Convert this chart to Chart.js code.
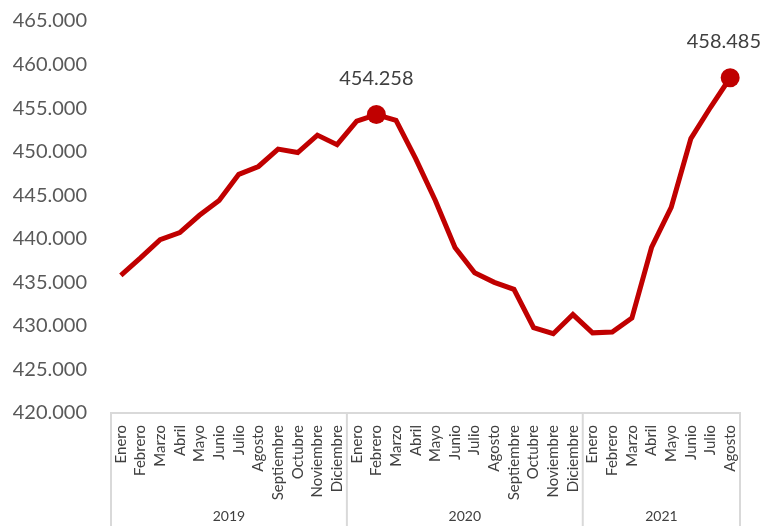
<!DOCTYPE html>
<html>
<head>
<meta charset="utf-8">
<script src="https://cdn.jsdelivr.net/npm/chart.js@4/dist/chart.umd.min.js"></script>
<style>
  html, body { margin: 0; padding: 0; background: #fff; }
  #wrap { width: 765px; height: 526px; }
</style>
</head>
<body>
<div id="wrap"><canvas id="chart" width="765" height="526"></canvas></div>
<script>
// Chart data
const years = ["2019", "2020", "2021"];
const monthsPerYear = [12, 12, 8];
const monthNames = ["Enero", "Febrero", "Marzo", "Abril", "Mayo", "Junio", "Julio",
  "Agosto", "Septiembre", "Octubre", "Noviembre", "Diciembre"];
const values = [
  435800, 437800, 439900, 440700, 442700, 444400, 447400, 448300, 450300, 449900, 451900, 450800,
  453500, 454258, 453600, 449200, 444400, 439000, 436100, 435000, 434200, 429800, 429100, 431300,
  429200, 429300, 430900, 439000, 443600, 451500, 455100, 458485
];
const highlighted = [13, 31];
const yTicks = { min: 420000, max: 465000, step: 5000 };

const labels = [];
monthsPerYear.forEach((n) => {
  for (let i = 0; i < n; i++) labels.push(monthNames[i]);
});

function fmt(v) {
  return Math.round(v).toString().replace(/\B(?=(\d{3})+(?!\d))/g, ".");
}

const FONT = "Lato, 'Open Sans', sans-serif";

// Draws the data labels, the grouped axis lines and the year labels
const extras = {
  id: "extras",
  afterDatasetsDraw(chart) {
    const ctx = chart.ctx;
    const meta = chart.getDatasetMeta(0);
    const x = chart.scales.x;
    const area = chart.chartArea;

    ctx.save();
    ctx.fillStyle = "#404040";
    ctx.font = "20px " + FONT;
    ctx.textAlign = "center";
    ctx.textBaseline = "middle";
    highlighted.forEach((i) => {
      const p = meta.data[i];
      const txt = fmt(values[i]);
      const w = ctx.measureText(txt).width;
      let cx = p.x;
      if (cx + w / 2 > chart.width - 4) cx = chart.width - 4 - w / 2;
      ctx.fillText(txt, cx, p.y - 36);
    });

    // group separators
    const half = (x.getPixelForValue(1) - x.getPixelForValue(0)) / 2;
    ctx.strokeStyle = "#d9d9d9";
    ctx.lineWidth = 2;
    let start = 0;
    const bounds = [x.getPixelForValue(0) - half];
    monthsPerYear.forEach((n) => {
      start += n;
      bounds.push(x.getPixelForValue(start - 1) + half);
    });
    bounds.forEach((bx) => {
      ctx.beginPath();
      ctx.moveTo(bx, area.bottom);
      ctx.lineTo(bx, chart.height);
      ctx.stroke();
    });

    ctx.font = "14px " + FONT;
    ctx.fillStyle = "#404040";
    years.forEach((yr, k) => {
      ctx.fillText(yr, (bounds[k] + bounds[k + 1]) / 2, 516);
    });
    ctx.restore();
  },
};

new Chart(document.getElementById("chart"), {
  type: "line",
  data: {
    labels: labels,
    datasets: [
      {
        data: values,
        borderColor: "#C00000",
        backgroundColor: "#C00000",
        borderWidth: 5,
        tension: 0,
        pointRadius: (c) => (highlighted.includes(c.dataIndex) ? 9.5 : 0),
        pointHoverRadius: 0,
        pointBorderWidth: 0,
      },
    ],
  },
  options: {
    responsive: false,
    animation: false,
    events: [],
    layout: { padding: { top: 21, right: 25, left: 0, bottom: 0 } },
    plugins: { legend: { display: false }, tooltip: { enabled: false } },
    scales: {
      x: {
        offset: true,
        grid: { display: false },
        border: { display: true, color: "#d9d9d9", width: 2 },
        ticks: {
          minRotation: 90,
          maxRotation: 90,
          autoSkip: false,
          padding: 4,
          color: "#404040",
          font: { family: FONT, size: 15 },
        },
        afterFit(scale) {
          scale.height = 113;
          scale.paddingLeft = 0;
          scale.paddingRight = 0;
        },
      },
      y: {
        min: yTicks.min,
        max: yTicks.max,
        grid: { display: false },
        border: { display: false },
        ticks: {
          stepSize: yTicks.step,
          padding: 16,
          color: "#595959",
          font: { family: FONT, size: 20 },
          callback: (v) => fmt(v),
        },
        afterFit(scale) {
          scale.width = 111;
          scale.paddingTop = 0;
          scale.paddingBottom = 0;
        },
      },
    },
  },
  plugins: [extras],
});
</script>
</body>
</html>
